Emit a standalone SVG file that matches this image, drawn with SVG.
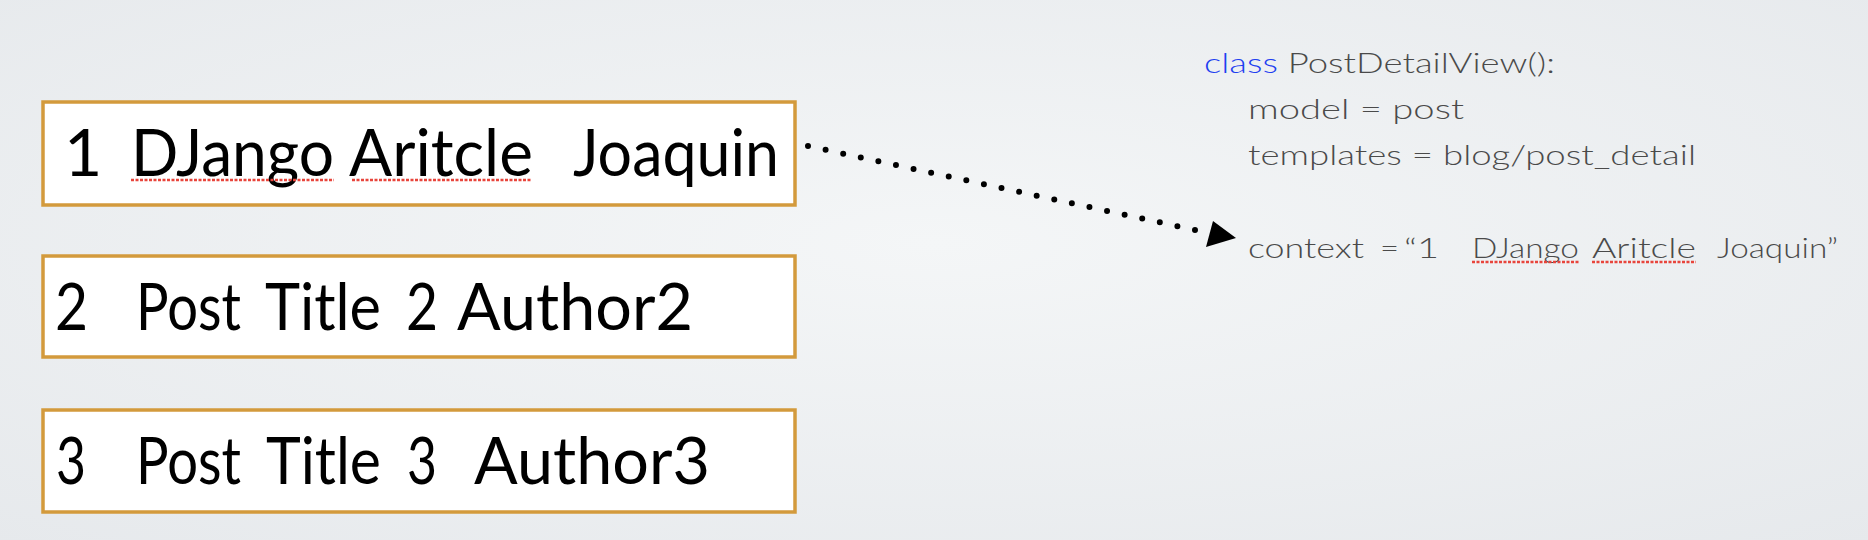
<svg xmlns="http://www.w3.org/2000/svg" width="1868" height="540" viewBox="0 0 1868 540">
<style>
.box{fill:#ffffff;stroke:#D39A3C;stroke-width:3.5}
.big{font-family:Lato,"Open Sans",sans-serif;font-size:66px;fill:#000000}
.code{font-family:Lato,"Open Sans",sans-serif;font-size:28px;font-weight:300;fill:#4a4a4a}
.kw{fill:#1f3ff0}
.spell{stroke:#e8453c;stroke-width:2.5;stroke-dasharray:3 1.5;fill:none}
.conn{stroke:#000;stroke-width:6;stroke-linecap:round;stroke-dasharray:0 18;fill:none}
</style>
<defs>
<radialGradient id="bg" cx="0.5" cy="0.45" r="0.75">
<stop offset="0" stop-color="#f4f6f7"/>
<stop offset="1" stop-color="#e6e9ec"/>
</radialGradient>
</defs>
<rect width="1868" height="540" fill="url(#bg)"/>
<g id="row1">
<rect class="box" x="43" y="102" width="752" height="103"/>
<text class="big" x="64" y="176">1</text>
<text class="big" x="131" y="176" textLength="203" lengthAdjust="spacingAndGlyphs">DJango</text>
<text class="big" x="349" y="176" textLength="184" lengthAdjust="spacingAndGlyphs">Aritcle</text>
<text class="big" x="573" y="176" textLength="206" lengthAdjust="spacingAndGlyphs">Joaquin</text>
<line class="spell" x1="131" y1="180" x2="334" y2="180"/>
<line class="spell" x1="352" y1="180" x2="532" y2="180"/>
</g>
<g id="row2">
<rect class="box" x="43" y="256" width="752" height="101"/>
<text class="big" x="55" y="330" textLength="33" lengthAdjust="spacingAndGlyphs">2</text>
<text class="big" x="136" y="330" textLength="105" lengthAdjust="spacingAndGlyphs">Post</text>
<text class="big" x="265" y="330" textLength="116" lengthAdjust="spacingAndGlyphs">Title</text>
<text class="big" x="406" y="330" textLength="32" lengthAdjust="spacingAndGlyphs">2</text>
<text class="big" x="457" y="330" textLength="236" lengthAdjust="spacingAndGlyphs">Author2</text>
</g>
<g id="row3">
<rect class="box" x="43" y="410" width="752" height="102"/>
<text class="big" x="56" y="484" textLength="30" lengthAdjust="spacingAndGlyphs">3</text>
<text class="big" x="136" y="484" textLength="105" lengthAdjust="spacingAndGlyphs">Post</text>
<text class="big" x="266" y="484" textLength="115" lengthAdjust="spacingAndGlyphs">Title</text>
<text class="big" x="407" y="484" textLength="30" lengthAdjust="spacingAndGlyphs">3</text>
<text class="big" x="474" y="484" textLength="236" lengthAdjust="spacingAndGlyphs">Author3</text>
</g>
<g id="code">
<text class="code" x="1204" y="73" textLength="351" lengthAdjust="spacingAndGlyphs"><tspan class="kw">class</tspan> PostDetailView():</text>
<text class="code" x="1248" y="119" textLength="216" lengthAdjust="spacingAndGlyphs">model = post</text>
<text class="code" x="1248" y="165" textLength="448" lengthAdjust="spacingAndGlyphs">templates = blog/post_detail</text>
<text class="code" x="1248" y="258" textLength="116" lengthAdjust="spacingAndGlyphs">context</text>
<text class="code" x="1380" y="258" textLength="19" lengthAdjust="spacingAndGlyphs">=</text>
<text class="code" x="1404" y="258" textLength="35" lengthAdjust="spacingAndGlyphs">“1</text>
<text class="code" x="1472" y="258" textLength="107" lengthAdjust="spacingAndGlyphs">DJango</text>
<text class="code" x="1592" y="258" textLength="104" lengthAdjust="spacingAndGlyphs">Aritcle</text>
<text class="code" x="1717" y="258" textLength="121" lengthAdjust="spacingAndGlyphs">Joaquin”</text>
<line class="spell" x1="1472" y1="262" x2="1579" y2="262"/>
<line class="spell" x1="1592" y1="262" x2="1696" y2="262"/>
</g>
<g id="connectors">
<line class="conn" x1="808" y1="146" x2="1195" y2="230"/>
<polygon points="1236,238 1213,221 1206,247" fill="#000"/>
</g>
</svg>
